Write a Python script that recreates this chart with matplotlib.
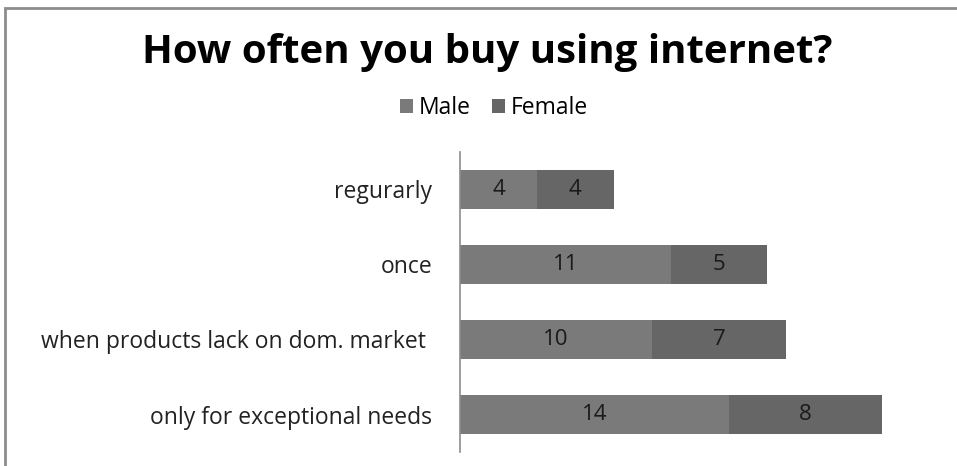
import matplotlib.pyplot as plt
from matplotlib.patches import Rectangle

# Data
categories = ["regurarly", "once", "when products lack on dom. market ", "only for exceptional needs"]
male = [4, 11, 10, 14]
female = [4, 5, 7, 8]

plt.rcParams['font.family'] = ['Open Sans', 'DejaVu Sans']

fig = plt.figure(figsize=(9.57, 4.66), dpi=100)
ax = fig.add_axes([460 / 957, 1 - 452 / 466, 480 / 957, 300 / 466])

# outer chart border (top and left edges visible)
fig.patches.append(Rectangle((5 / 957, -0.1), 1.2, 1 - 8 / 466 + 0.1, transform=fig.transFigure,
                             fill=False, edgecolor='#8c8c8c', linewidth=2))

y = list(range(len(categories)))
male_bars = ax.barh(y, male, height=0.51, color='#7a7a7a', label='Male')
female_bars = ax.barh(y, female, left=male, height=0.51, color='#666666', label='Female')

for bars in (male_bars, female_bars):
    ax.bar_label(bars, label_type='center', fontsize=16, color='#1a1a1a')

ax.set_xlim(0, 25)
ax.set_ylim(len(categories) - 0.5, -0.5)
ax.set_yticks(y)
ax.set_yticklabels(categories, fontsize=16.5, color='#222222')
ax.tick_params(axis='y', length=0, pad=20)
ax.set_xticks([])
for s in ['top', 'right', 'bottom']:
    ax.spines[s].set_visible(False)
ax.spines['left'].set_color('#8c8c8c')
ax.spines['left'].set_linewidth(1.2)

fig.text(487 / 957, 1 - 52 / 466, "How often you buy using internet?", ha='center', va='center',
         fontsize=29, fontweight='bold', color='black')

fig.legend(handles=[male_bars, female_bars], labels=['Male', 'Female'], loc='center',
           bbox_to_anchor=(494 / 957, 1 - 108 / 466), ncol=2, frameon=False, fontsize=16.5,
           handlelength=0.6, handleheight=0.6, handletextpad=0.25, columnspacing=0.9)

fig.savefig("out.png", dpi=100)
